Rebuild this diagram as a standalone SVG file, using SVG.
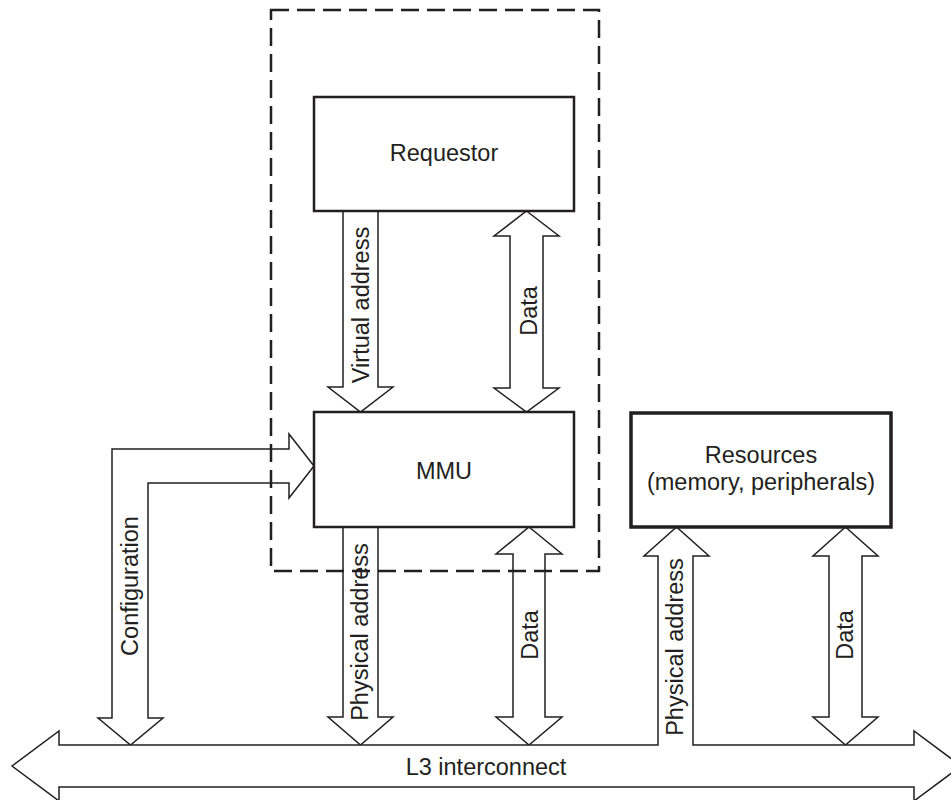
<svg xmlns="http://www.w3.org/2000/svg" width="951" height="800" viewBox="0 0 951 800">
<style>
.box{fill:#fff;stroke:#231f20;stroke-width:2.5}
.res{fill:#fff;stroke:#231f20;stroke-width:3.5}
.arr{fill:#fff;stroke:#231f20;stroke-width:1.5;stroke-linejoin:miter}
.dash{fill:none;stroke:#231f20;stroke-width:2.5;stroke-dasharray:18 8}
text{font-family:"Liberation Sans",Arial,sans-serif;font-size:23.5px;fill:#231f20;text-anchor:middle}
</style>
<rect width="951" height="800" fill="#fff"/>
<g id="connectors">
<path class="arr" d="M343,211 V387 H328 L360.5,412 L393,387 H378 V211"/>
<path class="arr" d="M526.5,211 L559,236 H543 V388 H559 L526.5,412 L494,388 H510 V236 H494 Z"/>
<path class="arr" d="M314,466 L289,434 V449 H112 V718 H98 L130.5,745 L163,718 H148 V483 H289 V498 Z"/>
<path class="arr" d="M343,527 V717 H328 L360.5,745 L393,717 H378 V527"/>
<path class="arr" d="M529,527 L562,554 H545 V717 H562 L529,745 L496,717 H513 V554 H496 Z"/>
<path class="arr" d="M845.5,527 L878,556 H862 V717 H878 L845.5,745 L813,717 H829 V556 H813 Z"/>
</g>
<g id="bus">
<path class="arr" d="M12,766 L59,731 V745 H658 V556 H644 L676.5,527 L709,556 H693 V745 H914 V731 L961,766 L914,801 V787 H59 V801 Z"/>
<text x="486" y="775">L3 interconnect</text>
</g>
<g id="mmu-boundary">
<rect class="dash" x="271" y="10" width="328" height="561"/>
</g>
<g id="requestor">
<rect class="box" x="314" y="97" width="260" height="114"/>
<text x="444" y="161">Requestor</text>
</g>
<g id="mmu">
<rect class="box" x="314" y="412" width="260" height="115"/>
<text x="444" y="479">MMU</text>
</g>
<g id="resources">
<rect class="res" x="631" y="413" width="260" height="114"/>
<text x="761" y="463">Resources</text>
<text x="761" y="490">(memory, peripherals)</text>
</g>
<g id="labels">
<text transform="translate(369,305) rotate(-90)">Virtual address</text>
<text transform="translate(537,311) rotate(-90)">Data</text>
<text transform="translate(138,586) rotate(-90)">Configuration</text>
<text transform="translate(368,632) rotate(-90)">Physical address</text>
<text transform="translate(538,635) rotate(-90)">Data</text>
<text transform="translate(683,647) rotate(-90)">Physical address</text>
<text transform="translate(853,635) rotate(-90)">Data</text>
</g>
</svg>
